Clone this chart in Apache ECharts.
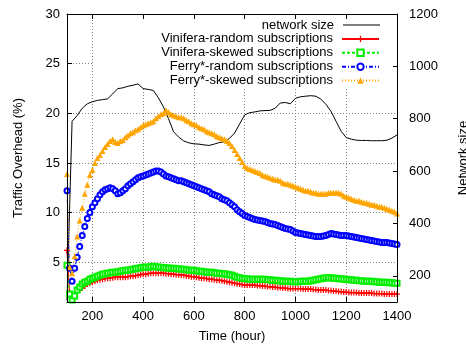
<!DOCTYPE html>
<html>
<head>
<meta charset="utf-8">
<script src="https://cdn.jsdelivr.net/npm/echarts@6/dist/echarts.min.js"></script>
<style>
  html, body { margin: 0; padding: 0; background: #fff; }
  #chart { width: 466px; height: 348px; }
</style>
</head>
<body>
<div id="chart"></div>
<script>
// Sampling times (hours) for the overhead measurements
const hours = [
  100,110,120,130,140,150,160,170,180,190,
  200,210,220,230,240,250,260,270,280,290,
  300,310,320,330,340,350,360,370,380,390,
  400,410,420,430,440,450,460,470,480,490,
  500,510,520,530,540,550,560,570,580,590,
  600,610,620,630,640,650,660,670,680,690,
  700,710,720,730,740,750,760,770,780,790,
  800,810,820,830,840,850,860,870,880,890,
  900,910,920,930,940,950,960,970,980,990,
  1000,1010,1020,1030,1040,1050,1060,1070,1080,1090,
  1100,1110,1120,1130,1140,1150,1160,1170,1180,1190,
  1200,1210,1220,1230,1240,1250,1260,1270,1280,1290,
  1300,1310,1320,1330,1340,1350,1360,1370,1380,1390,
  1400];

// Traffic overhead (%) per strategy
const viniferaRandom = [
  6.2,2.0,1.6,1.8,2.0,2.2,2.4,2.6,2.8,2.9,
  3.0,3.1,3.2,3.25,3.3,3.35,3.4,3.4,3.45,3.5,
  3.5,3.5,3.5,3.5,3.55,3.6,3.6,3.65,3.7,3.75,
  3.8,3.8,3.85,3.9,3.9,3.9,3.9,3.9,3.9,3.85,
  3.85,3.8,3.8,3.75,3.75,3.7,3.7,3.65,3.6,3.55,
  3.55,3.5,3.45,3.4,3.4,3.35,3.3,3.3,3.25,3.2,
  3.2,3.15,3.1,3.05,3.0,2.95,2.9,2.85,2.8,2.75,
  2.7,2.7,2.7,2.7,2.7,2.65,2.65,2.6,2.6,2.55,
  2.55,2.5,2.5,2.45,2.45,2.4,2.4,2.35,2.35,2.35,
  2.35,2.35,2.35,2.3,2.3,2.3,2.3,2.25,2.25,2.2,
  2.2,2.2,2.2,2.15,2.15,2.1,2.1,2.05,2.05,2.0,
  2.0,1.95,1.95,1.95,1.95,1.9,1.9,1.9,1.9,1.9,
  1.9,1.85,1.85,1.85,1.85,1.8,1.8,1.8,1.8,1.8,
  1.8];
const viniferaSkewed = [
  4.7,1.8,1.2,1.6,2.2,2.5,2.8,3.0,3.1,3.3,
  3.4,3.5,3.6,3.7,3.8,3.85,3.9,3.95,4.0,4.0,
  4.05,4.1,4.15,4.2,4.2,4.25,4.3,4.35,4.4,4.45,
  4.5,4.5,4.5,4.55,4.6,4.55,4.5,4.5,4.45,4.45,
  4.4,4.4,4.4,4.35,4.35,4.3,4.3,4.25,4.2,4.2,
  4.2,4.15,4.1,4.1,4.05,4.0,4.0,4.0,3.95,3.9,
  3.9,3.85,3.85,3.8,3.75,3.7,3.6,3.5,3.45,3.4,
  3.35,3.35,3.3,3.3,3.3,3.3,3.3,3.3,3.3,3.25,
  3.25,3.2,3.2,3.15,3.15,3.1,3.1,3.1,3.1,3.05,
  3.05,3.05,3.1,3.1,3.1,3.1,3.15,3.2,3.25,3.3,
  3.35,3.4,3.45,3.45,3.45,3.4,3.4,3.35,3.35,3.3,
  3.3,3.25,3.25,3.2,3.2,3.15,3.15,3.1,3.1,3.1,
  3.1,3.05,3.05,3.0,3.0,3.0,3.0,2.95,2.95,2.9,
  2.9];
const ferryRandom = [
  12.2,4.4,3.1,4.4,5.5,6.6,7.7,8.6,9.4,10.0,
  10.6,11.0,11.4,11.8,12.1,12.3,12.4,12.5,12.4,12.2,
  11.9,12.0,12.2,12.4,12.7,12.9,13.1,13.3,13.5,13.6,
  13.7,13.8,13.9,14.0,14.1,14.2,14.2,14.1,13.9,13.7,
  13.6,13.5,13.4,13.3,13.2,13.2,13.1,13.0,12.9,12.8,
  12.7,12.6,12.5,12.4,12.3,12.2,12.1,11.9,11.8,11.7,
  11.6,11.4,11.3,11.2,11.0,10.8,10.6,10.3,10.1,9.9,
  9.7,9.6,9.5,9.4,9.3,9.25,9.2,9.15,9.1,9.0,
  8.9,8.85,8.8,8.7,8.6,8.5,8.4,8.35,8.3,8.15,
  8.0,7.95,7.9,7.85,7.8,7.75,7.7,7.65,7.6,7.6,
  7.6,7.65,7.7,7.8,7.9,7.85,7.8,7.75,7.7,7.7,
  7.7,7.65,7.6,7.55,7.5,7.45,7.4,7.35,7.3,7.25,
  7.2,7.15,7.1,7.05,7.0,7.0,7.0,6.95,6.9,6.85,
  6.8];
const ferrySkewed = [
  13.9,4.5,3.9,5.6,7.6,9.2,10.5,11.9,12.8,13.8,
  14.3,15.0,15.5,15.8,16.2,16.6,16.9,17.2,17.4,17.1,
  17.0,17.2,17.3,17.6,17.8,18.0,18.1,18.3,18.4,18.6,
  18.8,18.9,19.0,19.1,19.2,19.5,19.7,19.9,20.0,20.3,
  20.1,19.9,19.8,19.7,19.6,19.6,19.5,19.3,19.2,19.0,
  18.9,18.8,18.6,18.5,18.4,18.2,18.1,18.0,17.9,17.7,
  17.6,17.5,17.4,17.2,17.0,16.7,16.3,15.9,15.5,15.1,
  14.7,14.5,14.4,14.3,14.2,14.1,14.0,13.8,13.7,13.6,
  13.5,13.4,13.3,13.3,13.2,13.0,12.9,12.9,12.8,12.7,
  12.6,12.5,12.4,12.3,12.2,12.2,12.1,12.0,12.0,11.9,
  11.9,11.9,11.9,12.0,12.0,12.0,12.0,12.0,11.9,11.7,
  11.6,11.5,11.4,11.3,11.2,11.2,11.1,11.0,11.0,10.9,
  10.8,10.8,10.7,10.6,10.6,10.5,10.4,10.3,10.2,10.1,
  9.9];

// Network size (nodes), right axis
const netHours = [100,110,120,140,160,180,200,220,240,260,280,300,320,340,360,380,400,420,440,460,480,
  500,520,540,560,580,600,620,640,660,680,700,720,740,760,780,800,820,840,860,880,
  900,920,940,960,980,1000,1020,1040,1060,1080,1100,1120,1140,1160,1180,1200,1220,1240,1260,1280,
  1300,1320,1340,1360,1380,1400];
const netSize = [105,450,790,812,840,857,865,870,873,876,895,915,918,924,928,933,915,912,908,880,845,
  800,750,730,715,708,704,703,700,698,703,709,712,725,745,780,815,823,826,830,831,
  832,840,860,862,857,878,884,886,888,886,875,855,828,790,752,728,722,718,717,717,
  716,716,716,718,726,738];

// Tick values
const xTicks = [200,400,600,800,1000,1200,1400];
const yTicks = [5,10,15,20,25,30];
const y2Ticks = [200,400,600,800,1000,1200];

const seriesNames = [
  'network size',
  'Vinifera-random subscriptions',
  'Vinifera-skewed subscriptions',
  'Ferry*-random subscriptions',
  'Ferry*-skewed subscriptions'
];

const FONT = '"Liberation Sans", Arial, Helvetica, sans-serif';
const pair = (xs, ys) => xs.map((x, i) => [x, ys[i]]);
const plusSymbol = 'path://M4,0H6V4H10V6H6V10H4V6H0V4H4Z';
const gridLine = { show: true, lineStyle: { color: '#808080', width: 1, type: [1, 2] } };
const txt = { color: '#000', fontSize: 13, fontFamily: FONT };
const plain = v => String(v);

const chart = echarts.init(document.getElementById('chart'), null, { renderer: 'canvas' });

const legendTops = [25, 38.9, 52.8, 66.7, 80.6];
const legends = seriesNames.map((n, i) => ({
  data: [i === 0 ? { name: n, icon: 'rect' } : n],
  orient: 'horizontal',
  right: 86,
  top: legendTops[i] - 7,
  align: 'right',
  itemWidth: 37,
  itemHeight: i === 0 ? 1.2 : 8,
  padding: 0,
  selectedMode: false,
  textStyle: Object.assign({ lineHeight: 14, padding: [0, 4, 0, 0] }, txt)
}));

chart.setOption({
  animation: false,
  backgroundColor: '#fff',
  grid: { left: 67, right: 69, top: 14, bottom: 46, containLabel: false, outerBoundsMode: 'none' },
  legend: legends,
  graphic: [{
    type: 'rect', z: 1,
    shape: { x: 93, y: 15, width: 303, height: 72 },
    style: { fill: '#fff' }
  }],
  xAxis: [
    {
      type: 'value', position: 'bottom', min: 100, max: 1400, z: 5,
      name: 'Time (hour)', nameLocation: 'middle', nameGap: 28, nameTextStyle: txt,
      axisLine: { show: true, lineStyle: { color: '#000', width: 1 } },
      axisTick: { show: true, inside: true, length: 5, customValues: xTicks, lineStyle: { color: '#000' } },
      axisLabel: Object.assign({ margin: 8, customValues: xTicks, formatter: plain,
        alignMinLabel: 'center', alignMaxLabel: 'center', hideOverlap: false }, txt),
      splitLine: { show: false }
    },
    {
      type: 'value', position: 'top', min: 100, max: 1400, z: 5,
      axisLine: { show: true, lineStyle: { color: '#000', width: 1 } },
      axisTick: { show: true, inside: true, length: 5, customValues: xTicks, lineStyle: { color: '#000' } },
      axisLabel: { show: false },
      splitLine: { show: false }
    },
    {
      type: 'value', position: 'bottom', min: 100, max: 1400, z: 0,
      axisLine: { show: false },
      axisTick: { show: false, customValues: [200,400,600,800,1000,1200] },
      axisLabel: { show: false },
      splitLine: gridLine
    }
  ],
  yAxis: [
    {
      type: 'value', position: 'left', min: 1, max: 30, z: 5,
      name: 'Traffic Overhead (%)', nameLocation: 'middle', nameGap: 42, nameRotate: 90, nameTextStyle: txt,
      axisLine: { show: true, lineStyle: { color: '#000', width: 1 } },
      axisTick: { show: true, inside: true, length: 5, customValues: yTicks, lineStyle: { color: '#000' } },
      axisLabel: Object.assign({ margin: 7, customValues: yTicks, formatter: plain,
        verticalAlignMaxLabel: 'middle' }, txt),
      splitLine: { show: false }
    },
    {
      type: 'value', position: 'right', min: 100, max: 1200, z: 5,
      name: 'Network size', nameLocation: 'middle', nameGap: 60, nameRotate: 90, nameTextStyle: txt,
      axisLine: { show: true, lineStyle: { color: '#000', width: 1 } },
      axisTick: { show: true, inside: true, length: 4, customValues: y2Ticks, lineStyle: { color: '#000' } },
      axisLabel: Object.assign({ margin: 12, customValues: y2Ticks, formatter: plain,
        verticalAlignMaxLabel: 'middle' }, txt),
      splitLine: { show: false }
    },
    {
      type: 'value', position: 'left', min: 1, max: 30, z: 0,
      axisLine: { show: false },
      axisTick: { show: false, customValues: [5,10,15,20,25] },
      axisLabel: { show: false },
      splitLine: gridLine
    }
  ],
  series: [
    {
      name: seriesNames[0], type: 'line', xAxisIndex: 0, yAxisIndex: 1,
      data: pair(netHours, netSize), symbol: 'none',
      itemStyle: { color: '#000' },
      lineStyle: { color: '#000', width: 1 }
    },
    {
      name: seriesNames[1], type: 'line', xAxisIndex: 0, yAxisIndex: 0,
      data: pair(hours, viniferaRandom), symbol: plusSymbol, symbolSize: 6,
      itemStyle: { color: '#ff0000' },
      lineStyle: { color: '#ff0000', width: 1.2 }
    },
    {
      name: seriesNames[2], type: 'line', xAxisIndex: 0, yAxisIndex: 0,
      data: pair(hours, viniferaSkewed), symbol: 'emptyRect', symbolSize: 5,
      itemStyle: { color: '#00ee00', borderWidth: 1.2 },
      lineStyle: { color: '#00ee00', width: 1, type: [3, 2] }
    },
    {
      name: seriesNames[3], type: 'line', xAxisIndex: 0, yAxisIndex: 0,
      data: pair(hours, ferryRandom), symbol: 'emptyCircle', symbolSize: 5,
      itemStyle: { color: '#0000ff', borderWidth: 1.4 },
      lineStyle: { color: '#0000ff', width: 1, type: [4, 2, 1, 2] }
    },
    {
      name: seriesNames[4], type: 'line', xAxisIndex: 0, yAxisIndex: 0,
      data: pair(hours, ferrySkewed), symbol: 'triangle', symbolSize: 6,
      itemStyle: { color: '#ffa500' },
      lineStyle: { color: '#ffa500', width: 1, type: [1, 2] }
    }
  ]
});
</script>
</body>
</html>
